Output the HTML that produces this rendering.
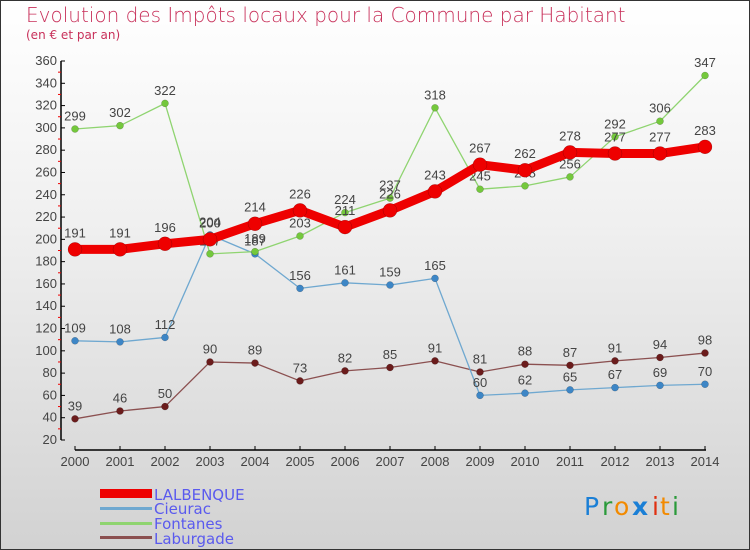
<!DOCTYPE html>
<html><head><meta charset="utf-8"><style>
html,body{margin:0;padding:0}
body{width:750px;height:550px;overflow:hidden;font-family:"Liberation Sans","DejaVu Sans",sans-serif}
#wrap{position:absolute;left:0;top:0;width:748px;height:548px;border:1px solid #333;background:linear-gradient(#fff 0%,#f0f0f0 40%,#d2d2d2 100%)}
</style></head><body>
<div id="wrap">
<svg id="chart" width="750" height="550" style="position:absolute;left:-1px;top:-1px">
<text x="26" y="22" font-size="20" fill="#c8305a" font-family="DejaVu Sans, sans-serif" font-weight="200">Evolution des Impôts locaux pour la Commune par Habitant</text>
<text x="26" y="39" font-size="12" fill="#c8305a" font-family="DejaVu Sans, sans-serif">(en € et par an)</text>
<g id="axes"></g>
<g id="series"></g>
<g id="legend" font-family="DejaVu Sans, sans-serif">
<rect x="100" y="489" width="52" height="9" fill="#e00"/>
<text x="154" y="500" font-size="15" fill="#5a5aee">LALBENQUE</text>
<rect x="100" y="507" width="52" height="3" fill="#6fa8d0"/>
<text x="154" y="514" font-size="15" fill="#5a5aee">Cieurac</text>
<rect x="100" y="522" width="52" height="3" fill="#8fd470"/>
<text x="154" y="529" font-size="15" fill="#5a5aee">Fontanes</text>
<rect x="100" y="536" width="52" height="3" fill="#8b5050"/>
<text x="154" y="544" font-size="15" fill="#5a5aee">Laburgade</text>
</g>
<g font-size="25" font-family="DejaVu Sans, sans-serif">
<text x="584" y="515" fill="#1a7fd6">P</text><text x="602" y="515" fill="#2a9a3a">r</text><text x="614" y="515" fill="#f28a00">o</text><text x="632" y="515" fill="#1a7fd6" font-weight="bold">x</text><text x="652" y="515" fill="#e03010">i</text><text x="660" y="515" fill="#f28a00">t</text><text x="672" y="515" fill="#2a9a3a">i</text>
</g>
</svg>
</div>
<script>
const years=["2000","2001","2002","2003","2004","2005","2006","2007","2008","2009","2010","2011","2012","2013","2014"];
const yTicks=[20,40,60,80,100,120,140,160,180,200,220,240,260,280,300,320,340,360];
const lalbenque=[191,191,196,200,214,226,211,226,243,267,262,278,277,277,283];
const cieurac=[109,108,112,204,187,156,161,159,165,60,62,65,67,69,70];
const fontanes=[299,302,322,187,189,203,224,237,318,245,248,256,292,306,347];
const laburgade=[39,46,50,90,89,73,82,85,91,81,88,87,91,94,98];
const NS="http://www.w3.org/2000/svg";
function xs(i){return 75+i*45;}
function ys(v){return 440-(v-20)*(379/340);}
function mk(tag,attrs,parent){const e=document.createElementNS(NS,tag);for(const k in attrs)e.setAttribute(k,attrs[k]);parent.appendChild(e);return e;}
const axes=document.getElementById('axes');
let a=mk('line',{x1:61,y1:ys(360),x2:61,y2:ys(20),stroke:'#000','stroke-width':1.5},axes);


a=mk('line',{x1:75,y1:450,x2:706,y2:450,stroke:'#000','stroke-width':1.5},axes);


yTicks.forEach((t,i)=>{
  mk('line',{x1:61,y1:ys(t),x2:65,y2:ys(t),stroke:'#000'},axes);
  if(i<yTicks.length-1) mk('line',{x1:58,y1:ys(t+10),x2:61,y2:ys(t+10),stroke:'#e00'},axes);
  const tx=mk('text',{x:57,y:ys(t)+4,'font-size':13,fill:'#444','text-anchor':'end'},axes);
  tx.textContent=t;
  
  
});
years.forEach((y,i)=>{
  mk('line',{x1:xs(i),y1:446,x2:xs(i),y2:450,stroke:'#000'},axes);
  const tx=mk('text',{x:xs(i),y:466,'font-size':13,fill:'#444','text-anchor':'middle'},axes);
  tx.textContent=y;
  
  
});
const sg=document.getElementById('series');
function draw(data,name,color,dot,w,r){
  const g=mk('g',{},sg);
  
  
  const pl=mk('polyline',{points:data.map((v,i)=>xs(i)+','+ys(v)).join(' '),fill:'none',stroke:color,'stroke-width':w,'stroke-linejoin':'round'},g);
  
  
  data.forEach((v,i)=>{
    const c=mk('circle',{cx:xs(i),cy:ys(v),r:r,fill:dot,stroke:'rgba(0,0,0,0.3)','stroke-width':0.5},g);
    
    
    const t=mk('text',{x:xs(i),y:ys(v)-(r+5),'font-size':13,fill:'#444','text-anchor':'middle'},g);
    t.textContent=v;
    
    
  });
}
draw(laburgade,'laburgade','#8b5050','#6b1c1c',1.3,3.5);
draw(cieurac,'cieurac','#6fa8d0','#3d86c6',1.3,3.5);
draw(fontanes,'fontanes','#8fd470','#74c83c',1.3,3.5);
draw(lalbenque,'lalbenque','#e00','#e00',9,7);
</script>
</body></html>
